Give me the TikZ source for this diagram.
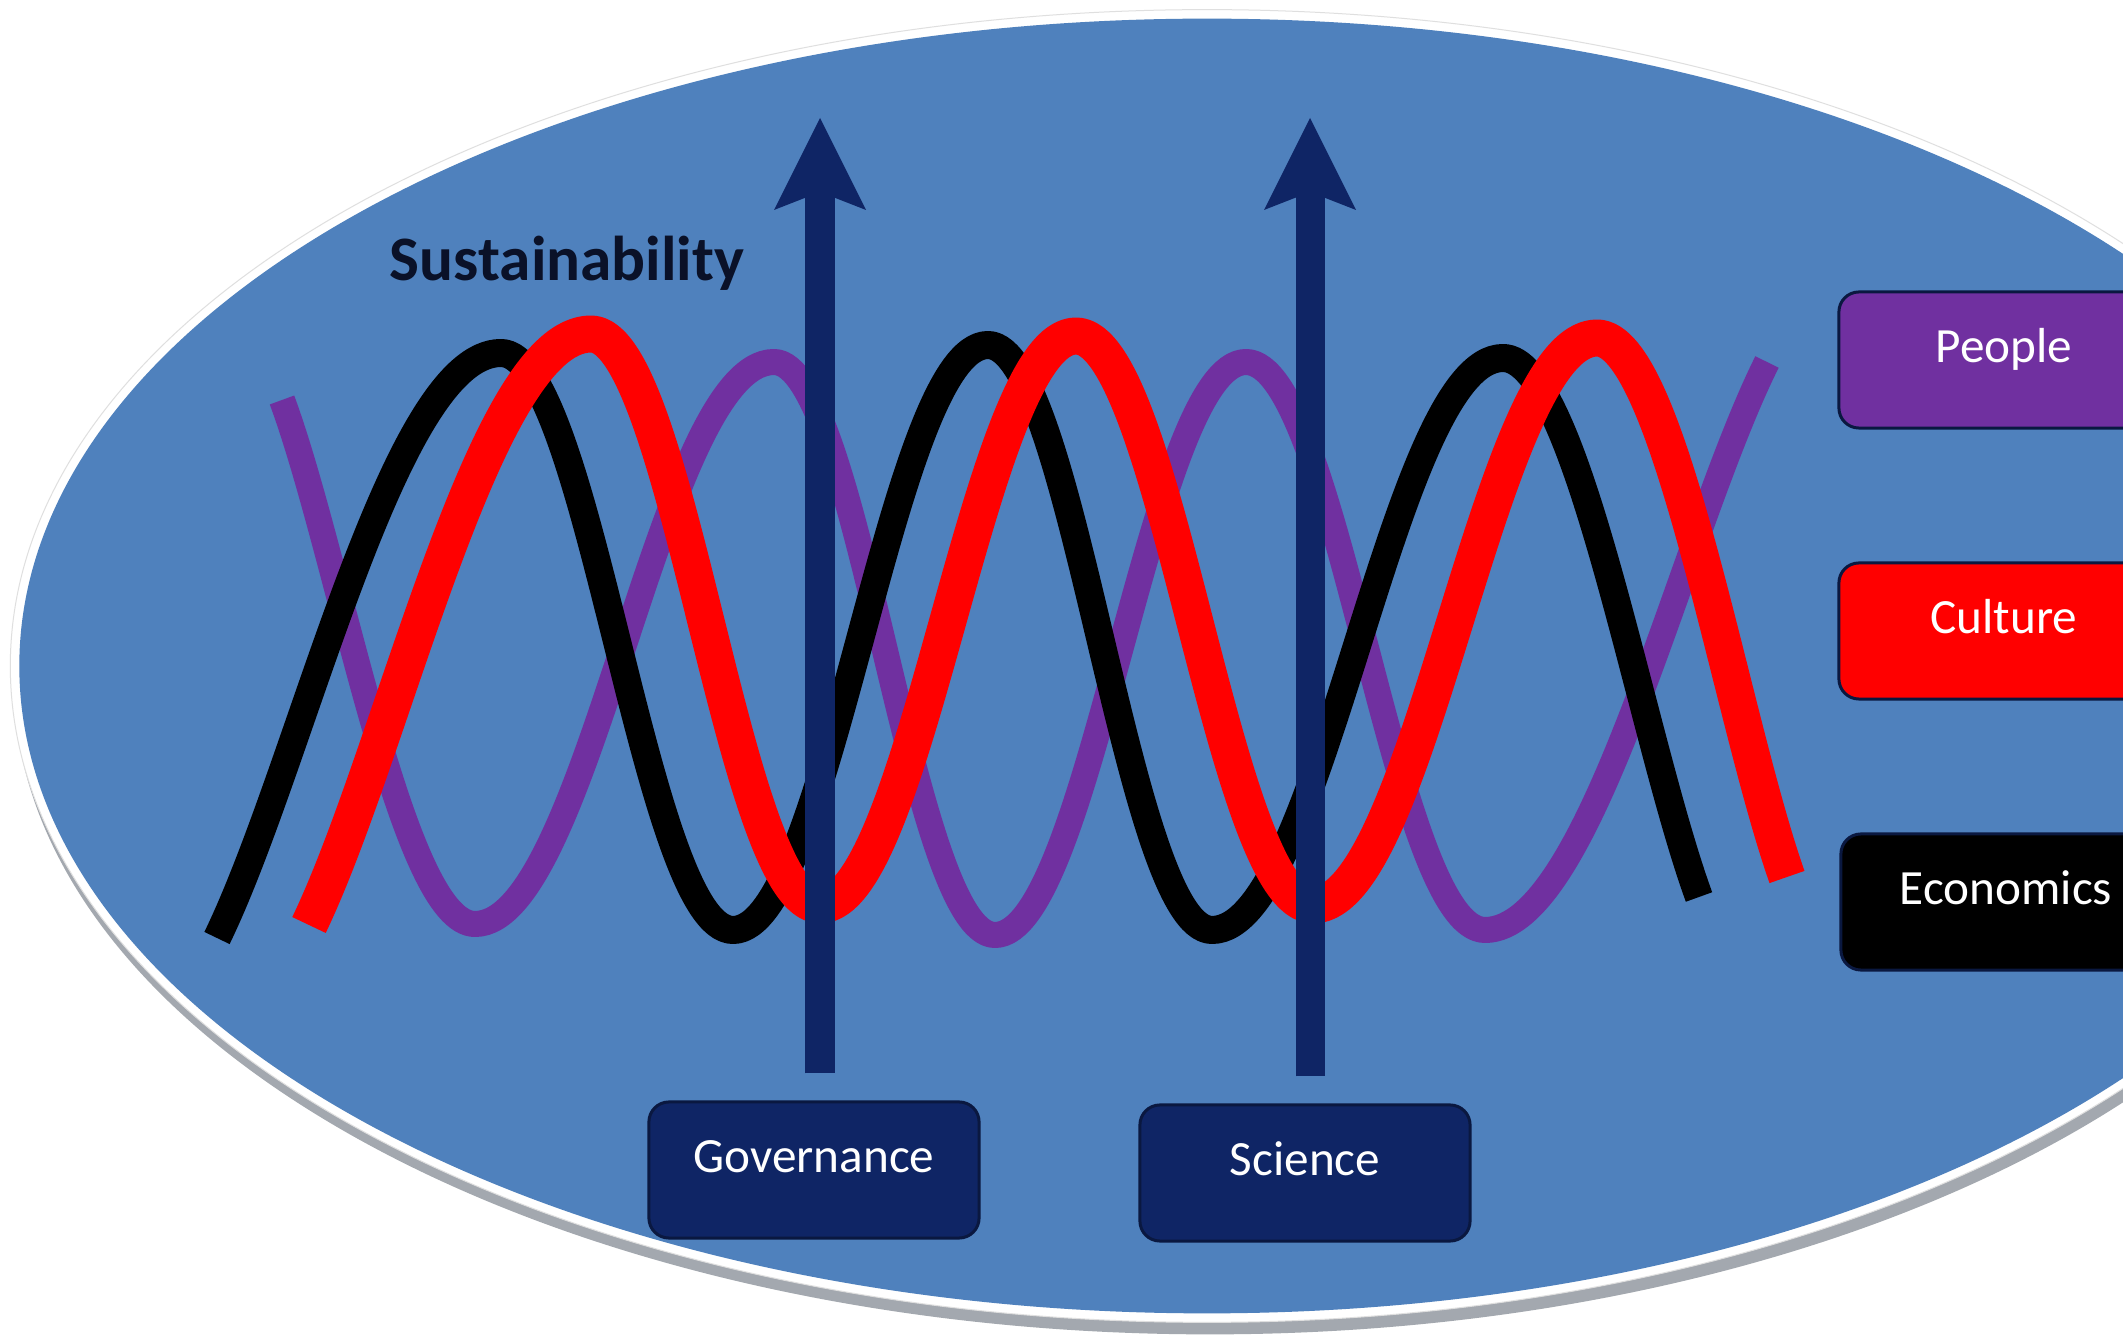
\documentclass[tikz,border=0pt]{standalone}
\usepackage{fontspec}
\setmainfont{Carlito}
\usetikzlibrary{calc}
\definecolor{ellblue}{HTML}{4F81BD}
\definecolor{navyc}{HTML}{0F2565}
\definecolor{boxedge}{HTML}{0A1840}
\definecolor{pplc}{HTML}{7030A0}
\definecolor{redc}{HTML}{FF0000}
\definecolor{shadowgray}{HTML}{A3A8AF}
\definecolor{susttext}{HTML}{0A1128}
\begin{document}
\begin{tikzpicture}[x=0.01cm,y=-0.01cm,
  wave/.style={line cap=butt, line join=round},
  rbox/.style={draw=boxedge, line width=0.03cm, rounded corners=0.2cm,
    minimum width=3.30cm, minimum height=1.36cm, inner sep=0pt,
    text=white, font=\fontsize{14}{17}\selectfont,
    text height=0.36cm, text depth=0.30cm},
  shaft/.style={draw=navyc, line width=0.29cm},
  head/.style={fill=navyc}]
\useasboundingbox (0,0) rectangle (2123,1337);
\clip (0,0) rectangle (2123,1337);
\fill[white] (0,0) rectangle (2123,1337);
% oval with rim and shadow
\fill[shadowgray] (1210,678) ellipse [x radius=11.96cm, y radius=6.56cm];
\fill[white] (1207,666) ellipse [x radius=11.96cm, y radius=6.56cm];
\draw[gray!25, line width=0.01cm] (1207,666) ellipse [x radius=11.96cm, y radius=6.56cm];
\fill[ellblue] (1207,666) ellipse [x radius=11.87cm, y radius=6.47cm];
% waves
\draw[wave, pplc, line width=0.26cm] (282,400) .. controls (340,557) and (402,924) .. (475,924)
  .. controls (589,924) and (660,362) .. (774,362)
  .. controls (858,362) and (911,935) .. (995,935)
  .. controls (1090,935) and (1151,362) .. (1246,362)
  .. controls (1337,362) and (1394,930) .. (1485,930)
  .. controls (1592,930) and (1682,532) .. (1767,362);
\draw[wave, black, line width=0.28cm] (217,938) .. controls (302,763) and (393,353) .. (501,353)
  .. controls (589,353) and (645,930) .. (733,930)
  .. controls (830,930) and (891,345) .. (988,345)
  .. controls (1073,345) and (1127,930) .. (1212,930)
  .. controls (1323,930) and (1392,358) .. (1503,358)
  .. controls (1577,358) and (1640,735) .. (1699,897);
\draw[wave, redc, line width=0.37cm] (309,925) .. controls (394,748) and (484,334) .. (591,334)
  .. controls (678,334) and (733,905) .. (820,905)
  .. controls (917,905) and (979,336) .. (1076,336)
  .. controls (1166,336) and (1223,905) .. (1313,905)
  .. controls (1421,905) and (1489,338) .. (1597,338)
  .. controls (1669,338) and (1730,715) .. (1787,877);
% text
\node[font=\bfseries\fontsize{18}{22}\selectfont, text=susttext] (sust) at (567,263) {Sustainability};
% boxes
\node[rbox, fill=navyc] (gov) at (814,1170) {Governance};
\node[rbox, fill=navyc] (sci) at (1305,1173) {Science};
\node[rbox, fill=pplc] (people) at (2004,360) {People};
\node[rbox, fill=redc] (culture) at (2004,631) {Culture};
\node[rbox, fill=black] (econ) at (2006,902) {Economics};
% arrows
\coordinate (govtip) at (820,118);
\coordinate (scitip) at (1310,118);
\draw[shaft] ($(govtip |- gov.north)+(0,-27)$) -- ($(govtip)+(0,62)$);
\fill[head] (govtip) -- ++(46,92) -- ++(-46,-18) -- ++(-46,18) -- cycle;
\draw[shaft] ($(scitip |- sci.north)+(0,-27)$) -- ($(scitip)+(0,62)$);
\fill[head] (scitip) -- ++(46,92) -- ++(-46,-18) -- ++(-46,18) -- cycle;
\end{tikzpicture}
\end{document}
